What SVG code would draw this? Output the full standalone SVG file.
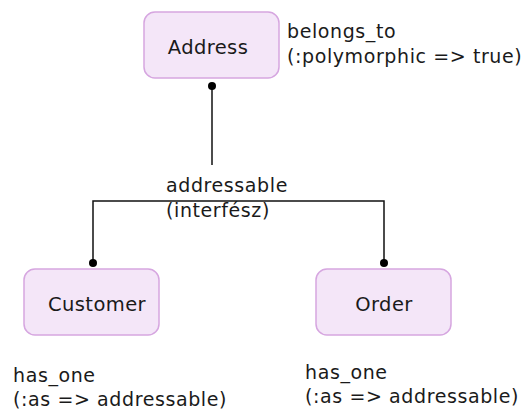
<svg xmlns="http://www.w3.org/2000/svg" width="528" height="410" viewBox="0 0 528 410">
  <style>
    .node rect { fill: #f4e6f8; stroke: #d6a6e0; stroke-width: 1.5; }
    .node text { font-family: "DejaVu Sans", sans-serif; font-size: 19.5px; letter-spacing: 0.4px; fill: #1a1a1a; text-anchor: middle; }
    .label { font-family: "DejaVu Sans", sans-serif; font-size: 19px; letter-spacing: 0.6px; fill: #1a1a1a; }
    .edge { fill: none; stroke: #111; stroke-width: 1.5; }
    .dot { fill: #000; }
  </style>
  <rect width="528" height="410" fill="#fff"/>

  <g id="connectors">
    <line class="edge" x1="212" y1="86" x2="212" y2="165"/>
    <circle class="dot" cx="212" cy="86" r="4"/>
    <polyline class="edge" points="93,263 93,201 384,201 384,263"/>
    <circle class="dot" cx="93" cy="263" r="4"/>
    <circle class="dot" cx="384" cy="263" r="4"/>
    <text class="label" x="166" y="192">addressable</text>
    <text class="label" x="166" y="217">(interfész)</text>
  </g>

  <g id="address" class="node">
    <rect x="144" y="12" width="135" height="66" rx="11"/>
    <text x="208" y="54">Address</text>
  </g>
  <g id="address-note">
    <text class="label" x="287" y="38">belongs_to</text>
    <text class="label" x="287" y="63">(:polymorphic =&gt; true)</text>
  </g>

  <g id="customer" class="node">
    <rect x="24" y="269" width="135" height="66" rx="11"/>
    <text x="97" y="311">Customer</text>
  </g>
  <g id="customer-note">
    <text class="label" x="13" y="382">has_one</text>
    <text class="label" x="13" y="406">(:as =&gt; addressable)</text>
  </g>

  <g id="order" class="node">
    <rect x="316" y="269" width="135" height="66" rx="11"/>
    <text x="384" y="311">Order</text>
  </g>
  <g id="order-note">
    <text class="label" x="305" y="379">has_one</text>
    <text class="label" x="305" y="403">(:as =&gt; addressable)</text>
  </g>
</svg>
